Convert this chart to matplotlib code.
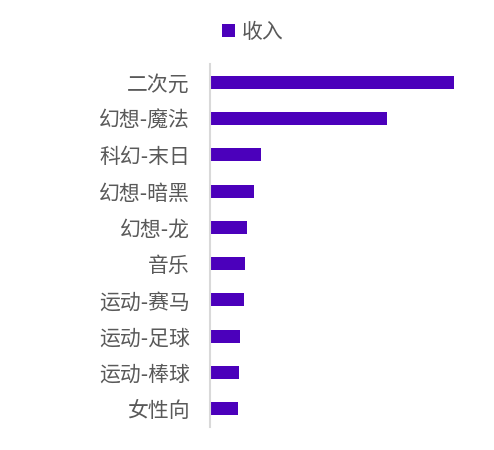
import matplotlib.pyplot as plt

plt.rcParams['font.family'] = ['Noto Sans CJK SC', 'DejaVu Sans']

categories = ['二次元', '幻想-魔法', '科幻-末日', '幻想-暗黑', '幻想-龙',
              '音乐', '运动-赛马', '运动-足球', '运动-棒球', '女性向']
income = [244, 177, 51, 44, 37, 35, 34, 30, 29, 28]

bar_color = '#4b00bb'
text_color = '#595959'

fig = plt.figure(figsize=(4.94, 4.5), dpi=100)
ax = fig.add_axes([210/494, 1 - 427/450, 264/494, 363/450])

pos = list(range(len(categories)))
ax.barh(pos, income, height=0.36, color=bar_color, label='收入')
ax.set_yticks(pos)
ax.set_yticklabels(categories, fontsize=15, color=text_color)
ax.set_ylim(len(categories) - 0.5, -0.5)
ax.set_xlim(0, 264)
ax.set_xticks([])
ax.tick_params(axis='y', length=0, pad=14.5)

for s in ['top', 'right', 'bottom']:
    ax.spines[s].set_visible(False)
ax.spines['left'].set_color('#d9d9d9')
ax.spines['left'].set_linewidth(1.5)

leg = fig.legend(loc='center', bbox_to_anchor=(253/494, 1 - 32/450),
                 frameon=False, fontsize=15, handlelength=0.6, handleheight=0.6,
                 handletextpad=0.35)
for t in leg.get_texts():
    t.set_color(text_color)

fig.savefig('out.png', dpi=100)
